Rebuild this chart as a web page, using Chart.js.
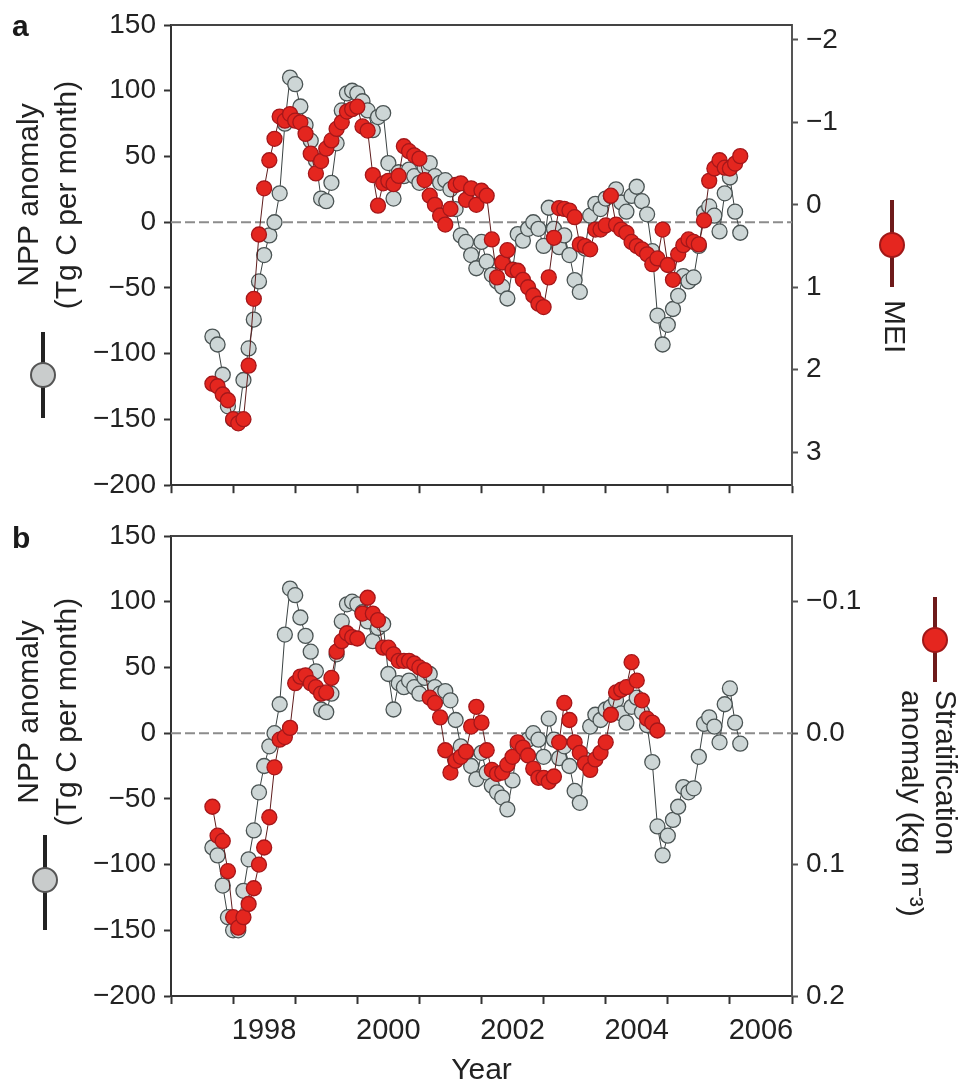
<!DOCTYPE html>
<html>
<head>
<meta charset="utf-8">
<script src="https://cdn.jsdelivr.net/npm/chart.js@4.4.1/dist/chart.umd.min.js"></script>
<style>
  body { margin: 0; background: #fff; }
  #wrap { position: relative; width: 965px; height: 1083px; }
  canvas { position: absolute; left: 0; }
  #chartA { top: 0; }
  #chartB { top: 510px; }
</style>
</head>
<body>
<div id="wrap">
  <canvas id="chartA" width="965" height="510"></canvas>
  <canvas id="chartB" width="965" height="573"></canvas>
</div>
<script>
const FONT = '"Liberation Sans", Arial, Helvetica, sans-serif';

// axis ticks
const yearTicks = [1997, 1998, 1999, 2000, 2001, 2002, 2003, 2004, 2005, 2006, 2007];
const yearLabels = [1998, 2000, 2002, 2004, 2006];
const nppTicks = [-200, -150, -100, -50, 0, 50, 100, 150];
const meiTicks = [-2, -1, 0, 1, 2, 3];
const stratTicks = [-0.1, 0, 0.1, 0.2];

// monthly series, first value = September 1997
const firstMonth = 1997 + 8 / 12;

// NPP anomaly (Tg C per month), grey in both panels
const npp = [
  -87, -93, -116, -140, -150, -150, -120, -96, -74, -45,
  -25, -10, 0, 22, 75, 110, 105, 88, 74, 62,
  47, 18, 16, 30, 60, 85, 98, 100, 98, 92,
  85, 70, 80, 83, 45, 18, 38, 35, 40, 35,
  30, 42, 45, 35, 30, 32, 25, 10, -10, -15,
  -25, -35, -15, -30, -40, -45, -49, -58, -36, -9,
  -14, -5, 0, -5, -18, 11, -5, -19, -10, -25,
  -44, -53, -20, 5, 14, 10, 18, 20, 25, 15,
  8, 20, 27, 16, 6, -22, -71, -93, -78, -66,
  -56, -41, -45, -42, -18, 7, 12, 5, -7, 22,
  34, 8, -8
];

// Multivariate ENSO index (panel a, red, reversed right axis)
const mei = [
  2.17, 2.2, 2.3, 2.37, 2.6, 2.65, 2.6, 1.95, 1.14, 0.36,
  -0.2, -0.54, -0.8, -1.07, -1.02, -1.1, -1.02, -1.0, -0.86, -0.62,
  -0.38, -0.53, -0.68, -0.78, -0.92, -1.0, -1.13, -1.16, -1.19, -0.95,
  -0.9, -0.36, 0.01, -0.26, -0.29, -0.25, -0.35, -0.71, -0.65, -0.6,
  -0.56, -0.3, -0.11, 0, 0.13, 0.24, 0.05, -0.24, -0.26, -0.06,
  -0.2, 0, -0.17, -0.11, 0.42, 0.88, 0.7, 0.55, 0.79, 0.8,
  0.91, 1.0, 1.1, 1.2, 1.24, 0.88, 0.4, 0.04, 0.05, 0.07,
  0.15, 0.48, 0.5, 0.54, 0.3, 0.3, 0.25, -0.11, 0.24, 0.3,
  0.34, 0.45, 0.5, 0.54, 0.6, 0.72, 0.65, 0.3, 0.73, 0.91,
  0.6, 0.49, 0.42, 0.45, 0.48, 0.19, -0.29, -0.44, -0.54, -0.45,
  -0.44, -0.5, -0.59
];

// stratification anomaly (kg m-3), panel b, red, reversed right axis
const strat = [
  0.056, 0.078, 0.082, 0.105, 0.14, 0.148, 0.14, 0.13, 0.118, 0.1,
  0.087, 0.064, 0.026, 0.005, 0.003, -0.004, -0.038, -0.043, -0.044, -0.038,
  -0.035, -0.03, -0.031, -0.042, -0.062, -0.07, -0.076, -0.073, -0.072, -0.091,
  -0.103, -0.091, -0.086, -0.065, -0.065, -0.06, -0.055, -0.055, -0.055, -0.053,
  -0.05, -0.048, -0.027, -0.023, -0.012, 0.013, 0.03, 0.021, 0.018, 0.014,
  -0.005, -0.02, -0.008, 0.013, 0.028, 0.031, 0.03, 0.024, 0.018, 0.007,
  0.011, 0.017, 0.027, 0.034, 0.034, 0.037, 0.033, 0.007, -0.023, -0.01,
  0.007, 0.015, 0.023, 0.028, 0.02, 0.015, 0.007, -0.014, -0.031, -0.033,
  -0.035, -0.054, -0.04, -0.025, -0.011, -0.008, -0.002
];

const zeroLine = [{ x: 1997, y: 0 }, { x: 2007, y: 0 }];

const pts = arr => arr.map((v, i) => ({ x: firstMonth + i / 12, y: v }));
const minus = v => (v < 0 ? '\u2212' : '') + Math.abs(v);
const minus1 = v => (v < 0 ? '\u2212' : '') + Math.abs(v).toFixed(1);

function glyph(ctx, g) {
  ctx.strokeStyle = g.line;
  ctx.lineWidth = 4;
  ctx.beginPath();
  ctx.moveTo(g.x, g.y1);
  ctx.lineTo(g.x, g.y2);
  ctx.stroke();
  ctx.beginPath();
  ctx.arc(g.x, g.cy, 12, 0, Math.PI * 2);
  ctx.fillStyle = g.fill;
  ctx.fill();
  ctx.strokeStyle = g.edge;
  ctx.lineWidth = 2;
  ctx.stroke();
}

// panel letter, rotated axis titles, legend glyphs, top frame line
const decor = {
  id: 'decor',
  afterDraw(chart, args, o) {
    const ctx = chart.ctx, a = chart.chartArea;
    ctx.save();
    ctx.strokeStyle = '#444';
    ctx.lineWidth = 2;
    ctx.beginPath();
    ctx.moveTo(a.left, a.top);
    ctx.lineTo(a.right, a.top);
    ctx.stroke();

    ctx.fillStyle = '#1a1a1a';
    ctx.font = 'bold 30px ' + FONT;
    ctx.textAlign = 'left';
    ctx.textBaseline = 'alphabetic';
    ctx.fillText(o.letter, 12, o.letterY);

    ctx.font = '30px ' + FONT;
    ctx.fillStyle = '#222';
    o.left.forEach((t, k) => {
      ctx.save();
      ctx.translate(o.leftX[k], o.leftY);
      ctx.rotate(-Math.PI / 2);
      ctx.textAlign = 'center';
      ctx.textBaseline = 'middle';
      ctx.fillText(t, 0, 0);
      ctx.restore();
    });
    o.right.forEach((t, k) => {
      ctx.save();
      ctx.translate(o.rightX[k], o.rightY);
      ctx.rotate(Math.PI / 2);
      ctx.textAlign = 'left';
      ctx.textBaseline = 'middle';
      ctx.fillText(t, 0, 0);
      ctx.restore();
    });
    glyph(ctx, o.leftGlyph);
    glyph(ctx, o.rightGlyph);
    ctx.restore();
  }
};

const greyStyle = {
  showLine: true, borderColor: '#3a4242', borderWidth: 1,
  pointRadius: 7.5, pointBackgroundColor: '#cdd6d6',
  pointBorderColor: '#4b5454', pointBorderWidth: 1.3
};
const redStyle = {
  showLine: true, borderColor: '#5e1c1c', borderWidth: 1,
  pointRadius: 7.5, pointBackgroundColor: '#e4261f',
  pointBorderColor: '#a5171a', pointBorderWidth: 1.3
};
const dashStyle = {
  showLine: true, borderColor: '#8c8c8c', borderWidth: 2,
  borderDash: [10, 4], pointRadius: 0
};

function makePanel(id, cfg) {
  return new Chart(document.getElementById(id), {
    type: 'scatter',
    data: {
      datasets: [
        Object.assign({ label: cfg.redName, data: pts(cfg.red), yAxisID: 'yR' }, redStyle),
        Object.assign({ label: 'NPP anomaly', data: pts(npp), yAxisID: 'y' }, greyStyle),
        Object.assign({ label: 'zero', data: zeroLine, yAxisID: 'y' }, dashStyle)
      ]
    },
    options: {
      responsive: false,
      animation: false,
      devicePixelRatio: 1,
      layout: { padding: { top: cfg.top, left: 0, right: 0, bottom: 0 } },
      plugins: {
        legend: { display: false },
        tooltip: { enabled: false },
        decor: cfg.decor
      },
      scales: {
        x: {
          type: 'linear', position: 'bottom', min: 1997, max: 2007,
          afterBuildTicks: s => { s.ticks = yearTicks.map(v => ({ value: v })); },
          afterFit: s => { s.height = cfg.xHeight; },
          ticks: {
            callback: v => (cfg.showYears && yearLabels.includes(v)) ? String(v) : '',
            labelOffset: 31, maxRotation: 0, autoSkip: false, padding: 10,
            color: '#222', font: { size: 29 }
          },
          grid: { drawOnChartArea: false, tickLength: 8, tickWidth: 2, tickColor: '#333' },
          border: { color: '#333', width: 2 },
          title: {
            display: cfg.showYears, text: 'Year', color: '#222',
            font: { size: 30, lineHeight: 0.8 }, padding: { top: 0, bottom: 0 }
          }
        },
        y: {
          type: 'linear', position: 'left', min: -200, max: 150,
          afterBuildTicks: s => { s.ticks = nppTicks.map(v => ({ value: v })); },
          afterFit: s => { s.width = 171; },
          ticks: { callback: minus, padding: 8, color: '#222', font: { size: 28 } },
          grid: { drawOnChartArea: false, tickLength: 7, tickWidth: 2, tickColor: '#333' },
          border: { color: '#333', width: 2 }
        },
        yR: {
          type: 'linear', position: 'right', reverse: true,
          min: cfg.rMin, max: cfg.rMax,
          afterBuildTicks: s => { s.ticks = cfg.rTicks.map(v => ({ value: v })); },
          afterFit: s => { s.width = 173; },
          ticks: { callback: cfg.rFmt, padding: 8, color: '#222', font: { size: 28 } },
          grid: { drawOnChartArea: false, tickLength: 6, tickWidth: 2, tickColor: '#555' },
          border: { color: '#555', width: 2 }
        }
      }
    },
    plugins: [decor]
  });
}

Chart.defaults.font.family = FONT;

makePanel('chartA', {
  redName: 'MEI', red: mei, top: 25, xHeight: 20, showYears: false,
  rMin: -2.18, rMax: 3.4, rTicks: meiTicks, rFmt: minus,
  decor: {
    letter: 'a', letterY: 36,
    left: ['NPP anomaly', '(Tg C per month)'], leftX: [30, 68], leftY: 195,
    right: ['MEI'], rightX: [893], rightY: 300,
    leftGlyph: { x: 43, y1: 332, y2: 418, cy: 375, fill: '#c9cccc', edge: '#555', line: '#222' },
    rightGlyph: { x: 892, y1: 200, y2: 287, cy: 245, fill: '#e5261f', edge: '#a01818', line: '#6e1a1a' }
  }
});

makePanel('chartB', {
  redName: 'Stratification anomaly', red: strat, top: 26, xHeight: 87, showYears: true,
  rMin: -0.15, rMax: 0.2, rTicks: stratTicks, rFmt: minus1,
  decor: {
    letter: 'b', letterY: 38,
    left: ['NPP anomaly', '(Tg C per month)'], leftX: [30, 68], leftY: 202,
    right: ['Stratification', 'anomaly (kg m\u207B\u00B3)'], rightX: [944, 910], rightY: 180,
    leftGlyph: { x: 45, y1: 325, y2: 420, cy: 370, fill: '#c9cccc', edge: '#555', line: '#222' },
    rightGlyph: { x: 935, y1: 87, y2: 172, cy: 130, fill: '#e5261f', edge: '#a01818', line: '#6e1a1a' }
  }
});
</script>
</body>
</html>
